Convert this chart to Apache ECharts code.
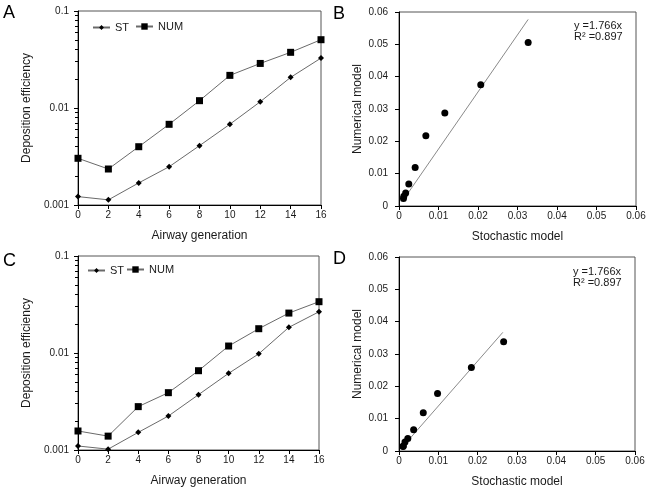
<!DOCTYPE html>
<html><head><meta charset="utf-8">
<script src="https://cdn.jsdelivr.net/npm/echarts@6/dist/echarts.min.js"></script>
<style>html,body{margin:0;padding:0;background:#fff}#c{width:649px;height:489px}</style>
</head><body><div id="c"></div>
<script>
// ---- data ----
const generations = [0, 2, 4, 6, 8, 10, 12, 14, 16];
const stA  = [0.00122, 0.00113, 0.00169, 0.00248, 0.00409, 0.0068, 0.0116, 0.0207, 0.0327];
const numA = [0.00303, 0.00235, 0.00399, 0.00679, 0.0119, 0.0217, 0.0288, 0.0375, 0.0506];
const stC  = [0.00110, 0.00102, 0.00152, 0.00224, 0.00372, 0.00617, 0.0098, 0.0184, 0.0266];
const numC = [0.00157, 0.00139, 0.00280, 0.00390, 0.00657, 0.0118, 0.0178, 0.0258, 0.0338];
const fitB = [[0.0011, 0.0019], [0.0327, 0.0577]];
const fitD = [[0.0010, 0.0014], [0.0264, 0.0367]];
const logTickLabels = ['0.001', '0.01', '0.1'];
const genTickLabels = ['0', '2', '4', '6', '8', '10', '12', '14', '16'];
const linTickLabels = ['0', '0.01', '0.02', '0.03', '0.04', '0.05', '0.06'];
const logMinorTicks = [0.002, 0.003, 0.004, 0.005, 0.006, 0.007, 0.008, 0.009,
                       0.02, 0.03, 0.04, 0.05, 0.06, 0.07, 0.08, 0.09];
const fitTextB = ['y =1.766x', 'R\u00B2 =0.897'];
const fitTextD = ['y =1.766x', 'R\u00B2 =0.897'];
const panelLetters = ['A', 'B', 'C', 'D'];
const seriesNames = ['ST', 'NUM'];

// ---- helpers ----
const FONT = 'Liberation Sans, Arial, Helvetica, sans-serif';
const TXT = '#1a1a1a';
const pairs = (xs, ys) => xs.map((x, i) => [x, ys[i]]);

const grids = [
  {left: 78, top: 11, width: 243, height: 194},
  {left: 399, top: 12, width: 237, height: 194},
  {left: 78, top: 256, width: 241, height: 194},
  {left: 399, top: 257, width: 236, height: 194}
].map(g => Object.assign({show: true, borderColor: '#555', borderWidth: 1,
  backgroundColor: 'transparent', containLabel: false, outerBoundsMode: 'none'}, g));

const axisCommon = {
  axisLine: {show: true, onZero: false, lineStyle: {color: '#000', width: 1}},
  axisTick: {show: true, inside: false, length: 4, lineStyle: {color: '#000', width: 1}},
  splitLine: {show: false},
  nameTextStyle: {fontFamily: FONT, fontSize: 12, color: TXT},
  nameLocation: 'middle'
};
const labelStyle = (arr, margin) => ({fontFamily: FONT, fontSize: 10, color: TXT, margin,
  formatter: (v, i) => arr[i]});

const xAxes = [0, 1, 2, 3].map(k => {
  const gen = (k % 2 === 0);
  return Object.assign({}, axisCommon, {
    gridIndex: k, type: 'value', min: 0, max: gen ? 16 : 0.06, interval: gen ? 2 : 0.01,
    name: gen ? 'Airway generation' : 'Stochastic model', nameGap: 25,
    axisLabel: labelStyle(gen ? genTickLabels : linTickLabels, 5)
  });
});
const yAxes = [0, 1, 2, 3].map(k => {
  const gen = (k % 2 === 0);
  if (gen) {
    return Object.assign({}, axisCommon, {
      gridIndex: k, type: 'log', logBase: 10, min: 0.001, max: 0.1, splitNumber: 2,
      name: 'Deposition efficiency', nameGap: 45,
      axisLabel: labelStyle(logTickLabels, 9)
    });
  }
  return Object.assign({}, axisCommon, {
    gridIndex: k, type: 'value', min: 0, max: 0.06, interval: 0.01,
    name: 'Numerical model', nameGap: 35,
    axisLabel: labelStyle(linTickLabels, 11)
  });
});
// secondary log axes carrying only the minor ticks (panels A and C)
[0, 2].forEach(k => yAxes.push({
  gridIndex: k, type: 'log', logBase: 10, min: 0.001, max: 0.1, position: 'left', offset: 0,
  axisLine: {show: false}, splitLine: {show: false}, axisLabel: {show: false},
  axisTick: {show: true, inside: false, length: 3, customValues: logMinorTicks,
    lineStyle: {color: '#000', width: 1}}
}));

const lineSeries = (name, idx, data, symbol, size) => ({
  type: 'line', name, xAxisIndex: idx, yAxisIndex: idx, data,
  symbol, symbolSize: size, showSymbol: true,
  lineStyle: {color: '#6a6a6a', width: 1},
  itemStyle: {color: '#000', opacity: 1},
  emphasis: {disabled: true}, animation: false, z: 3
});
const scatter = (idx, xs, ys) => ({
  type: 'scatter', name: 'pts', xAxisIndex: idx, yAxisIndex: idx, data: pairs(xs, ys),
  symbol: 'circle', symbolSize: 7, itemStyle: {color: '#000', opacity: 1},
  emphasis: {disabled: true}, animation: false, z: 4
});
const fitLine = (idx, data) => ({
  type: 'line', name: 'fit', xAxisIndex: idx, yAxisIndex: idx, data, symbol: 'none',
  lineStyle: {color: '#8a8a8a', width: 1}, animation: false, z: 2
});

const series = [
  lineSeries(seriesNames[0], 0, pairs(generations, stA), 'diamond', 6),
  lineSeries(seriesNames[1], 0, pairs(generations, numA), 'rect', 7),
  fitLine(1, fitB), scatter(1, stA, numA),
  lineSeries(seriesNames[0], 2, pairs(generations, stC), 'diamond', 6),
  lineSeries(seriesNames[1], 2, pairs(generations, numC), 'rect', 7),
  fitLine(3, fitD), scatter(3, stC, numC)
];

const legendOf = (name, left, top, h) => ({
  data: [name], left, top, padding: 0, itemWidth: 17, itemHeight: h, itemGap: 0,
  selectedMode: false, textStyle: {fontFamily: FONT, fontSize: 11, color: TXT}
});
const legends = [
  legendOf(seriesNames[0], 92, 22, 6), legendOf(seriesNames[1], 135, 21, 8),
  legendOf(seriesNames[0], 87, 265, 6), legendOf(seriesNames[1], 126, 264, 8)
];

const letterPos = [[3, 4], [333, 5], [3, 252], [333, 250]];
const graphic = panelLetters.map((t, i) => ({
  type: 'text', left: letterPos[i][0], top: letterPos[i][1],
  style: {text: t, font: '18px ' + FONT, fill: '#000'}
}));
[[fitTextB, 574, 20], [fitTextD, 573, 266]].forEach(([arr, x, y]) => {
  arr.forEach((t, j) => graphic.push({type: 'text', left: x, top: y + j * 11,
    style: {text: t, font: '11px ' + FONT, fill: TXT}}));
});

const chart = echarts.init(document.getElementById('c'), null, {renderer: 'canvas'});
chart.setOption({
  backgroundColor: '#fff', animation: false,
  grid: grids, xAxis: xAxes, yAxis: yAxes, series, legend: legends, graphic
});
</script></body></html>
